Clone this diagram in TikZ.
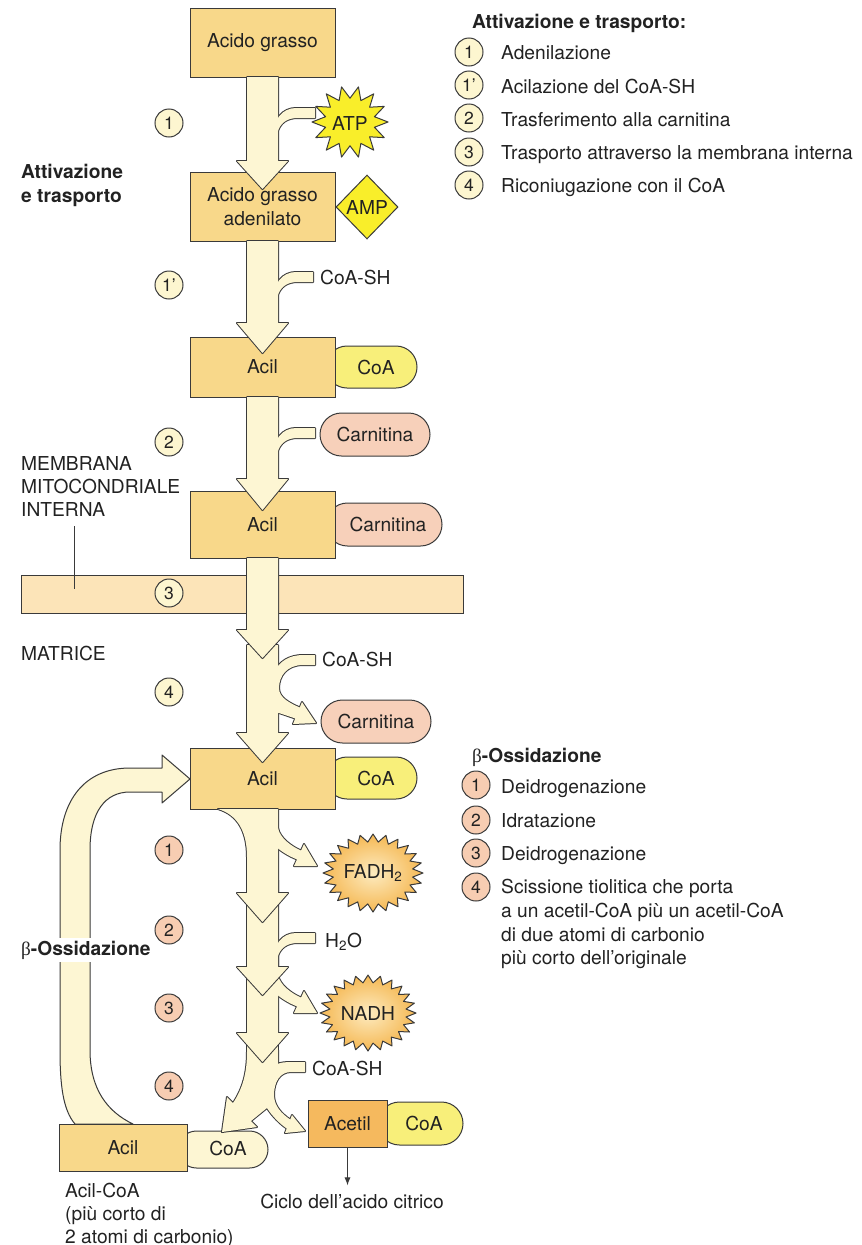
\documentclass[tikz,border=0pt]{standalone}
\usepackage{fontspec}
\setmainfont{TeX Gyre Heros}
\newfontfamily\grk{Liberation Serif}
\usetikzlibrary{shapes.misc,shapes.geometric,arrows.meta}
\definecolor{lc}{HTML}{3A3A3A}
\definecolor{txt}{HTML}{222222}
\definecolor{boxc}{HTML}{F8D88A}
\definecolor{arrc}{HTML}{FDF6D3}
\definecolor{memc}{HTML}{FCE4B8}
\definecolor{coac}{HTML}{F8EF7A}
\definecolor{carc}{HTML}{F7D0BA}
\definecolor{acec}{HTML}{F5B95E}
\definecolor{atpc}{HTML}{F9EE2A}
\definecolor{stepa}{HTML}{FDF6D0}
\definecolor{stepb}{HTML}{F7CDB2}
\definecolor{starin}{HTML}{FDEBC0}
\definecolor{starout}{HTML}{F5B853}
\newcommand{\shaft}[4]{\path[#1] (247,#2) -- (247,#3) -- (237,#3) -- (262.5,#4) -- (288,#3) -- (278,#3) -- (278,#2) -- cycle;}
\newcommand{\inb}[3]{\path[#1] (274,#3+24) .. controls (274,#3+12) and (282,#3) .. (296,#3) -- (#2,#3) -- (#2,#3+10) -- (298,#3+10) .. controls (288,#3+10) and (280,#3+14) .. (277,#3+26) -- cycle;}
\newcommand{\outb}[2]{\path[#1] (272,#2+826) -- (278,#2+828) .. controls (280,#2+838) and (291,#2+846) .. (301,#2+850.6) -- (304,#2+844) -- (317,#2+866) -- (294,#2+866) -- (297,#2+859.4) .. controls (288,#2+856) and (281,#2+851) .. (276,#2+847) -- (272,#2+847) -- cycle;}
\newcommand{\burst}[8]{\path[#8] ({#1+#3},{#2}) \foreach \k in {1,...,#7} { -- ({#1+#3*(1-(1-#5)*mod(\k,2))*cos(\k*180/#6)},{#2+#4*(1-(1-#5)*mod(\k,2))*sin(\k*180/#6)}) } -- cycle;}
\newcommand{\cpiece}[1]{\path[#1] (272,712) -- (272,676) -- (274,674) .. controls (278,661) and (290,655) .. (303,655) -- (315,655) -- (315,665) -- (303,665) .. controls (287,665) and (279,676) .. (279,688) .. controls (279,698) and (290,703) .. (299.75,707.5) -- (302,702) -- (316,723) -- (293,724) -- (295.25,718.5) .. controls (288,716) and (282,714) .. (276,712) -- cycle;}
\newcommand{\segS}[1]{\path[#1] (247,1025) -- (247,1055) -- (278,1055) -- (278,1025) -- cycle;}
\newcommand{\segL}[1]{\path[#1] (247,1040) -- (247,1052) .. controls (247,1072) and (243,1088) .. (233,1103) -- (227,1097) -- (222,1132) -- (257,1127) -- (251,1121) -- (267,1108) -- (272,1075) -- (272,1040) -- cycle;}
\newcommand{\segR}[1]{\path[#1] (262,1050) -- (278,1050) -- (278,1064) .. controls (280,1062.5) and (285,1062) .. (292,1062) -- (305,1062) -- (305,1072) -- (291,1072) .. controls (280,1072) and (274,1082) .. (274,1095) .. controls (274,1106) and (282,1114) .. (290.25,1119.5) -- (292,1115) -- (305,1131) -- (285,1133) -- (286.75,1128.5) .. controls (280,1124) and (272,1116) .. (267,1108) -- (262,1100) -- cycle;}
\begin{document}
\begin{tikzpicture}[x=1pt,y=-1pt,
  every node/.style={font=\fontsize{19.2}{24}\selectfont, text=txt, inner sep=0pt},
  bf/.style={font=\fontsize{19.2}{24}\selectfont\bfseries},
  mbox/.style={draw=lc, line width=1pt, fill=boxc, rectangle, align=center},
  pill/.style={draw=lc, line width=1pt, rounded rectangle},
  stepc/.style={circle, draw=lc, line width=1pt, minimum size=28pt, font=\fontsize{17.5}{20}\selectfont},
  ol/.style={draw=lc, line width=2pt, line join=round},
  fl/.style={fill=arrc},
  tx/.style={anchor=base west}]
\useasboundingbox (0,0) rectangle (862,1245);
\fill[white] (0,0) rectangle (862,1245);
% membrane
\node[draw=lc, line width=1pt, fill=memc, minimum width=442pt, minimum height=38pt] (mem) at (242,594) {};
\node[tx] (memT1) at (21,470) {MEMBRANA};
\node[tx] (memT2) at (21,493) {MITOCONDRIALE};
\node[tx] (memT3) at (21,516) {INTERNA};
\coordinate (memP) at (74,589);
\draw[lc, line width=1pt] ([yshift=-10pt]memT3.south -| memP) -- (memP);
\node[tx] (matr) at (21,660) {MATRICE};
\node[tx, bf] (att1) at (21,178) {Attivazione};
\node[tx, bf] (att2) at (21,202) {e trasporto};
% pills attached
\node[pill, fill=coac, minimum width=91pt, minimum height=42pt] (coa1) at (371.5,367) {};
\node (coa1t) at (376,367) {CoA};
\node[pill, fill=carc, minimum width=116pt, minimum height=43pt] (carn2) at (384,524.5) {};
\node (carn2t) at (388,524.5) {Carnitina};
\node[pill, fill=coac, minimum width=91pt, minimum height=42pt] (coa2) at (371.5,778) {};
\node (coa2t) at (376,778) {CoA};
\node[pill, fill=arrc, minimum width=90pt, minimum height=37pt] (coa3) at (223,1149.5) {};
\node[pill, fill=coac, minimum width=85pt, minimum height=43pt] (coa4) at (420.5,1123.5) {};
\node (coa4t) at (424,1123.5) {CoA};
\node[pill, fill=carc, minimum width=110pt, minimum height=43pt] (carn1) at (375,434.5) {Carnitina};
\node[pill, fill=carc, minimum width=110pt, minimum height=43pt] (carn3) at (376,721.5) {Carnitina};
% stars
\burst{350}{122}{38}{36}{0.66}{14}{27}{draw=lc, line width=1pt, fill=atpc, line join=round}
\node (atp) at (350,123) {ATP};
\node[diamond, draw=lc, line width=1pt, fill=atpc, minimum width=62pt, minimum height=64pt] (amp) at (367,207) {AMP};
\burst{373}{873}{50}{39}{0.8}{24}{47}{shade, draw=lc, line width=1pt, inner color=starin, outer color=starout, line join=round}
\node (fadh) at (373,873) {FADH\textsubscript{2}};
\burst{368}{1013}{48}{38}{0.8}{24}{47}{shade, draw=lc, line width=1pt, inner color=starin, outer color=starout, line join=round}
\node (nadh) at (368,1013) {NADH};
% loop arrow
\path[draw=lc, line width=1pt, fill=arrc, line join=round] (75,1124) .. controls (63,1110) and (60,1085) .. (60,1050) -- (60,850) .. controls (60,800) and (85,768) .. (130,768) -- (162,768) -- (162,755) -- (190,779) -- (162,803) -- (162,792) -- (130,792) .. controls (105,792) and (90,812) .. (90,850) -- (90,1050) .. controls (90,1090) and (108,1112) .. (133,1124) -- cycle;
% boxes
\node[mbox, minimum width=145pt, minimum height=69pt] (ag) at (262.5,42.5) {Acido grasso};
\node[mbox, minimum width=145pt, minimum height=69pt] (aga) at (262.5,206.5) {Acido grasso\\adenilato};
\node[mbox, minimum width=145pt, minimum height=60pt] (acil1) at (262.5,367) {Acil};
\node[mbox, minimum width=145pt, minimum height=67pt] (acil2) at (262.5,524.5) {Acil};
\node[mbox, minimum width=145pt, minimum height=61pt] (acil3) at (262.5,778.5) {Acil};
\node[mbox, minimum width=128pt, minimum height=47pt] (acil4) at (123,1147.5) {Acil};
\node (coa3t) at (228,1148) {CoA};
\node[mbox, fill=acec, minimum width=79pt, minimum height=47pt] (acetil) at (347.5,1123.5) {Acetil};
% activation arrows
\shaft{ol}{77}{161}{189}\inb{ol}{315}{108}\shaft{fl}{77}{161}{189}\inb{fl}{315}{108}
\shaft{ol}{241}{323}{353}\inb{ol}{313}{272}\shaft{fl}{241}{323}{353}\inb{fl}{313}{272}
\shaft{ol}{397}{479}{510}\inb{ol}{315}{428}\shaft{fl}{397}{479}{510}\inb{fl}{315}{428}
\shaft{ol}{645}{733}{762}\cpiece{ol}\shaft{fl}{645}{733}{762}\cpiece{fl}
\shaft{ol}{558}{630}{658}\shaft{fl}{558}{630}{658}
% beta oxidation arrows
\segS{ol}\segL{ol}\segR{ol}\segS{fl}\segL{fl}\segR{fl}
\shaft{ol}{955}{1033}{1062}\outb{ol}{147}\shaft{fl}{955}{1033}{1062}\outb{fl}{147}
\shaft{ol}{880}{967}{995}\inb{ol}{315}{933}\shaft{fl}{880}{967}{995}\inb{fl}{315}{933}
\path[ol] (218,809) .. controls (238,815) and (247,832) .. (247,857) -- (247,893) -- (237,893) -- (262.5,922) -- (288,893) -- (278,893) -- (278,809) -- cycle;
\outb{ol}{0}
\path[fl] (218,809) .. controls (238,815) and (247,832) .. (247,857) -- (247,893) -- (237,893) -- (262.5,922) -- (288,893) -- (278,893) -- (278,809) -- cycle;
\outb{fl}{0}
% small labels
\node[tx] (coash1) at (320,284) {CoA-SH};
\node[tx] (coash2) at (322,666) {CoA-SH};
\node[tx] (coash3) at (312,1075) {CoA-SH};
\node[tx] (h2o) at (325,947) {H\textsubscript{2}O};
% steps
\node[stepc, fill=stepa] (s1) at (169,123) {1};
\node[stepc, fill=stepa] (s1p) at (169,285) {1’};
\node[stepc, fill=stepa] (s2) at (169,442) {2};
\node[stepc, fill=stepa] (s3) at (169,593) {3};
\node[stepc, fill=stepa] (s4) at (169,692) {4};
\node[stepc, fill=stepb] (b1) at (169,850) {1};
\node[stepc, fill=stepb] (b2) at (169,930) {2};
\node[stepc, fill=stepb] (b3) at (169,1008) {3};
\node[stepc, fill=stepb] (b4) at (169,1086) {4};
\node[tx, bf, fill=white, inner xsep=2pt, inner ysep=3pt] (betaL) at (19,955) {{\grk\mdseries β}-Ossidazione};
% bottom texts
\node[tx] (ac1) at (65,1197) {Acil-CoA};
\node[tx] (ac2) at (65,1220) {(più corto di};
\node[tx] (ac3) at (65,1243) {2 atomi di carbonio)};
\node[anchor=base] (ciclo) at (352,1208) {Ciclo dell’acido citrico};
\draw[lc, line width=1pt, -{Latex[length=8pt,width=6pt]}, shorten >=8pt] (acetil.south) -- (acetil.south |- ciclo.north);
% legend 1
\node[tx, bf] (lgA) at (472,28) {Attivazione e trasporto:};
\node[stepc, fill=stepa] (la1) at (469,52) {1};
\node[tx] (lt1) at (501,59) {Adenilazione};
\node[stepc, fill=stepa] (la2) at (469,85) {1’};
\node[tx] (lt2) at (501,93) {Acilazione del CoA-SH};
\node[stepc, fill=stepa] (la3) at (469,118) {2};
\node[tx] (lt3) at (501,126) {Trasferimento alla carnitina};
\node[stepc, fill=stepa] (la4) at (469,152) {3};
\node[tx] (lt4) at (501,159) {Trasporto attraverso la membrana interna};
\node[stepc, fill=stepa] (la5) at (469,185) {4};
\node[tx] (lt5) at (501,192) {Riconiugazione con il CoA};
% legend 2
\node[tx, bf] (lgB) at (472,762) {{\grk\mdseries β}-Ossidazione};
\node[stepc, fill=stepb] (lb1) at (476,785) {1};
\node[tx] (lu1) at (501,793) {Deidrogenazione};
\node[stepc, fill=stepb] (lb2) at (476,820) {2};
\node[tx] (lu2) at (501,827) {Idratazione};
\node[stepc, fill=stepb] (lb3) at (476,853) {3};
\node[tx] (lu3) at (501,860) {Deidrogenazione};
\node[stepc, fill=stepb] (lb4) at (476,887) {4};
\node[tx] (lu4) at (501,893) {Scissione tiolitica che porta};
\node[tx] (lu5) at (501,917) {a un acetil-CoA più un acetil-CoA};
\node[tx] (lu6) at (501,941) {di due atomi di carbonio};
\node[tx] (lu7) at (501,964) {più corto dell’originale};
\end{tikzpicture}
\end{document}
